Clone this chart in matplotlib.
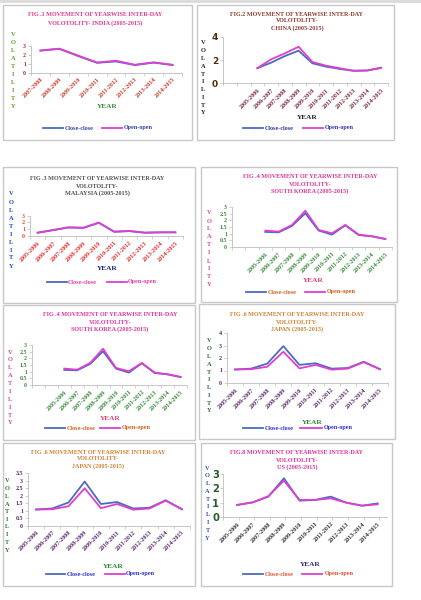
import matplotlib
matplotlib.use("Agg")
import matplotlib.pyplot as plt
from matplotlib.lines import Line2D
from matplotlib.patches import Rectangle
import numpy as np

# ---------------- data ----------------
years_india = ['2007-2008', '2008-2009', '2009-2010', '2010-2011',
               '2011-2012', '2012-2013', '2013-2014', '2014-2015']
years10 = ['2005-2006', '2006-2007', '2007-2008', '2008-2009', '2009-2010',
           '2010-2011', '2011-2012', '2012-2013', '2013-2014', '2014-2015']

india_close = [2.45, 2.65, 1.85, 1.10, 1.25, 0.85, 1.12, 0.85]
india_open = [2.47, 2.67, 1.90, 1.13, 1.33, 0.88, 1.15, 0.88]
china_close = [1.30, 1.77, 2.34, 2.80, 1.72, 1.43, 1.23, 1.07, 1.10, 1.34]
china_open = [1.30, 2.06, 2.57, 3.14, 1.83, 1.51, 1.29, 1.08, 1.10, 1.32]
malaysia_close = [0.48, 0.86, 1.25, 1.20, 1.95, 0.62, 0.72, 0.48, 0.53, 0.53]
malaysia_open = [0.50, 0.88, 1.28, 1.23, 1.98, 0.65, 0.75, 0.50, 0.55, 0.55]
korea_close = [1.13, 1.10, 1.58, 2.53, 1.23, 0.93, 1.63, 0.90, 0.80, 0.60]
korea_open = [1.23, 1.15, 1.65, 2.72, 1.28, 1.03, 1.65, 0.93, 0.80, 0.60]
japan_close = [1.08, 1.15, 1.55, 2.95, 1.45, 1.58, 1.15, 1.20, 1.70, 1.10]
japan_open = [1.08, 1.10, 1.30, 2.50, 1.17, 1.45, 1.07, 1.15, 1.67, 1.10]
us_close = [0.84, 1.02, 1.42, 2.70, 1.14, 1.19, 1.42, 1.00, 0.79, 0.95]
us_open = [0.84, 1.02, 1.45, 2.53, 1.19, 1.19, 1.30, 1.00, 0.79, 0.88]

yt_india = [0, 1, 2, 3]
yt_china = [0, 2, 4]
yt_malaysia = [0, 1, 2, 3]
yt_korea = [0, 0.5, 1, 1.5, 2, 2.5, 3]
yt_japan6 = [0, 1, 2, 3, 4]
yt_japan7 = [0, 0.5, 1, 1.5, 2, 2.5, 3, 3.5]
yt_us = [0, 1, 2, 3]

series_names = ['Close-close', 'Open-open']
COL_CLOSE = '#4A6CC0'
COL_OPEN = '#DE3FD2'

W, H = 421, 600
fig = plt.figure(figsize=(W / 100, H / 100), dpi=100)
fig.patch.set_facecolor('white')

SERIF = 'Liberation Serif'


def fx(x):
    return x / W


def fy(y):
    return 1 - y / H


def ftext(x, y, s, **kw):
    kw.setdefault('family', SERIF)
    kw.setdefault('weight', 'bold')
    fig.text(fx(x), fy(y), s, **kw)


# top gray strip
fig.add_artist(Rectangle((0, fy(3)), 1, 3 / H, transform=fig.transFigure,
                         facecolor='#dcdcdc', edgecolor='none', zorder=-5))


def fmt(v):
    return ('%g' % v)


def panel(box, titles, tcx, tys, tcol, ylab, axr, cats, close, opn, xlim, ylim,
          yticks, ytcol, xtcol, year, legend, ltcol, ytfont=None, ypad=1.5):
    x0, y0, x1, y1 = box
    fig.add_artist(Rectangle((fx(x0), fy(y1)), (x1 - x0) / W, (y1 - y0) / H,
                             transform=fig.transFigure, facecolor='none',
                             edgecolor='#c8c8c8', lw=1.0, zorder=-5))
    for s, ty in zip(titles, tys):
        ftext(tcx, ty, s, color=tcol, fontsize=4.4, ha='center', va='center')
    lx, ly0, ly1, lcol = ylab
    word = 'VOLATILITY'
    for i, ch in enumerate(word):
        yy = ly0 + (ly1 - ly0) * i / (len(word) - 1)
        ftext(lx, yy, ch, color=lcol, fontsize=4.6, ha='center', va='center')
    ax0, ay0, ax1, ay1 = axr
    ax = fig.add_axes([fx(ax0), fy(ay1), (ax1 - ax0) / W, (ay1 - ay0) / H])
    ax.set_facecolor('none')
    x = np.arange(len(cats))
    ax.plot(x, close, color=COL_CLOSE, lw=1.3, solid_joinstyle='round')
    ax.plot(x, opn, color=COL_OPEN, lw=1.3, solid_joinstyle='round')
    ax.set_xlim(*xlim)
    ax.set_ylim(*ylim)
    for sp in ['top', 'right']:
        ax.spines[sp].set_visible(False)
    for sp in ['left', 'bottom']:
        ax.spines[sp].set_color('#bdbdbd')
        ax.spines[sp].set_linewidth(0.6)
    ax.set_xticks(x)
    ax.set_xticklabels(cats, rotation=45, ha='right', rotation_mode='anchor',
                       family=SERIF, weight='bold', fontsize=4.3, color=xtcol)
    ax.tick_params(axis='x', length=0, pad=3)
    ax.set_xticks(np.arange(xlim[0], xlim[1] + 0.01, 1.0), minor=True)
    ax.tick_params(axis='x', which='minor', length=2, width=0.5, color='#bdbdbd')
    ax.set_yticks(yticks)
    if ytfont is None:
        ytfont = dict(family=SERIF, weight='bold', fontsize=4.3)
    ax.set_yticklabels([fmt(v) for v in yticks], color=ytcol, **ytfont)
    ax.tick_params(axis='y', length=2, width=0.5, color='#bdbdbd', pad=ypad)
    yx, yyy, ycol = year
    ftext(yx, yyy, 'YEAR', color=ycol, fontsize=5.2, ha='center', va='center')
    lyy, a0, a1, at, b0, b1, bt = legend
    for (p0, p1, pt, col, name) in [(a0, a1, at, COL_CLOSE, series_names[0]),
                                    (b0, b1, bt, COL_OPEN, series_names[1])]:
        fig.add_artist(Line2D([fx(p0), fx(p1)], [fy(lyy), fy(lyy)],
                              transform=fig.transFigure, color=col, lw=1.3))
        ftext(pt, lyy, name, color=ltcol, fontsize=4.4, ha='left', va='center')
    return ax


t_korea = ['FIG .4 MOVEMENT OF YEARWISE INTER-DAY', 'VOLOTOLITY-', 'SOUTH KOREA (2005-2015)']
t_japan = ['FIG .6 MOVEMENT OF YEARWISE INTER-DAY', 'VOLOTOLITY-', 'JAPAN (2005-2015)']

# P1 India
panel((3, 5, 192, 140),
      ['FIG .1 MOVEMENT OF YEARWISE INTER-DAY', 'VOLOTOLITY- INDIA (2005-2015)'],
      95, [15, 23], '#E0358F',
      (13, 35, 106, '#5E9A2A'),
      (31, 45.7, 182, 72.7), years_india, india_close, india_open,
      (-0.5, 7.5), (0, 3), yt_india, '#A0302A', '#C8402F',
      (107, 106, '#3C8A3C'),
      (128, 43, 63, 65, 102, 122, 124), '#3344AA')

# P2 China
panel((197, 5, 394, 140),
      ['FIG.2 MOVEMENT OF YEARWISE INTER-DAY', 'VOLOTOLITY-', 'CHINA (2005-2015)'],
      297, [14, 21, 28], '#8B3A2A',
      (203, 43, 113, '#222222'),
      (223, 36.7, 388, 83.3), years10, china_close, china_open,
      (-2.5, 9.5), (0, 4), yt_china, '#4A3010', '#7A2A3A',
      (307, 117, '#222222'),
      (128, 243, 263, 265, 303, 323, 325), '#3333AA',
      ytfont=dict(family='DejaVu Sans', weight='bold', fontsize=6.5))

# P3 Malaysia
panel((3, 167, 195, 303),
      ['FIG .3 MOVEMENT OF YEARWISE INTER-DAY', 'VOLOTOLITY-', 'MALAYSIA (2005-2015)'],
      97, [179, 186, 193], '#505050',
      (11, 194, 266, '#2040C0'),
      (30, 215.7, 183, 236), years10, malaysia_close, malaysia_open,
      (-0.5, 9.5), (0, 3), yt_malaysia, '#E05020', '#E03030',
      (107, 268, '#202080'),
      (282, 47, 67, 68, 107, 127, 128), '#E040A0')

# P4 South Korea
panel((201, 167, 397, 302), t_korea, 310, [177, 184, 191], '#E0309A',
      (209, 213, 285, '#E0409A'),
      (232, 207, 392, 247), years10, korea_close, korea_open,
      (-2.5, 9.5), (0, 3), yt_korea, '#3A8A3A', '#3A8A3A',
      (313, 280, '#E04070'),
      (292, 246, 266, 268, 305, 325, 327), '#D06020')

# P5 South Korea (repeat)
panel((3, 305, 195, 440), t_korea, 110, [315, 322, 329], '#E0309A',
      (10, 352, 423, '#E0409A'),
      (32, 345, 187, 385), years10, korea_close, korea_open,
      (-2.5, 9.5), (0, 3), yt_korea, '#3A8A3A', '#3A8A3A',
      (110, 418, '#E04070'),
      (428, 45, 65, 67, 100, 120, 122), '#D06020')

# P6 Japan
panel((199, 304, 395, 439), t_japan, 297, [314, 322, 329], '#D08030',
      (209, 341, 411, '#2A6A2A'),
      (227, 333, 388, 383), years10, japan_close, japan_open,
      (-0.5, 9.5), (0, 4), yt_japan6, '#5A2A6A', '#5A2A6A',
      (312, 423, '#2A8A2A'),
      (428, 243, 263, 265, 300, 322, 324), '#3030D0')

# P7 Japan (repeat)
panel((3, 443, 195, 586), t_japan, 98, [453, 459, 466], '#D08030',
      (7, 481, 550, '#2A7A2A'),
      (28, 473.3, 190, 525.7), years10, japan_close, japan_open,
      (-0.5, 9.5), (0, 3.5), yt_japan7, '#5A2A6A', '#5A2A6A',
      (113, 567, '#2A8A2A'),
      (574, 46, 65, 67, 105, 125, 126), '#3030D0')

# P8 US
panel((201, 443, 392, 586),
      ['FIG.8 MOVEMENT OF YEARWISE INTER-DAY', 'VOLOTOLITY-', 'US (2005-2015)'],
      297, [453, 460, 467], '#E0309A',
      (207.5, 468, 538, '#3050C0'),
      (223, 474, 387, 517), years10, us_close, us_open,
      (-0.9, 9.6), (0, 3), yt_us, '#2A5A2A', '#333333',
      (310, 565, '#2A2A7A'),
      (574, 243, 263, 265, 302, 322, 325), '#E05030',
      ytfont=dict(family='DejaVu Sans', weight='bold', fontsize=7.2), ypad=0.8)

fig.savefig('out.png', dpi=100, facecolor='white')
